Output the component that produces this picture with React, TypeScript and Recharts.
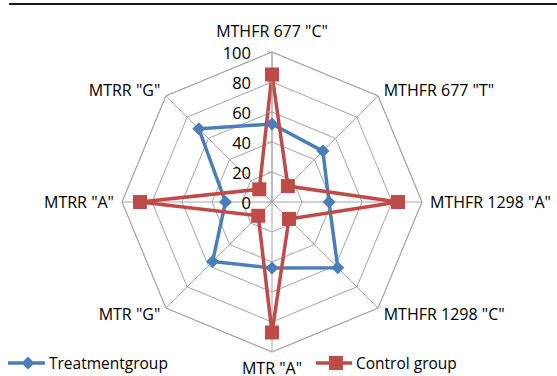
import React from "react";
import { RadarChart, Radar, PolarGrid, PolarAngleAxis, PolarRadiusAxis, Legend } from "recharts";

const genotypes = [
  'MTHFR 677 "C"',
  'MTHFR 677 "T"',
  'MTHFR 1298 "A"',
  'MTHFR 1298 "C"',
  'MTR "A"',
  'MTR "G"',
  'MTRR "A"',
  'MTRR "G"',
];
const treatmentGroup = [52, 48, 38, 62, 44, 56, 31, 69];
const controlGroup = [85, 15, 84, 16, 87, 13, 88, 12];
const radiusTicks = [0, 20, 40, 60, 80, 100];

const BLUE = "#4A7EBB";
const RED = "#BE4B48";
const GRID = "#A6A6A6";
const FONT = "'Open Sans', sans-serif";

const CX = 272;
const CY = 202;

const data = genotypes.map((g, i) => ({
  genotype: g,
  treatment: treatmentGroup[i],
  control: controlGroup[i],
}));

const Diamond = ({ cx, cy, color }: { cx: number; cy: number; color: string }) => (
  <path d={`M${cx},${cy - 6.5} L${cx + 6.5},${cy} L${cx},${cy + 6.5} L${cx - 6.5},${cy} Z`} fill={color} />
);

const Square = ({ cx, cy, color }: { cx: number; cy: number; color: string }) => (
  <rect x={cx - 7} y={cy - 7} width={14} height={14} fill={color} />
);

// category labels: start/end anchored at the sides, pushed further out at top and bottom
const AngleTick = (props: any) => {
  const { x, y, payload } = props;
  const dx = x - CX;
  const dy = y - CY;
  const len = Math.hypot(dx, dy) || 1;
  const ux = dx / len;
  const uy = dy / len;
  const vertical = Math.abs(ux) < 0.1;
  const anchor = vertical ? "middle" : ux > 0 ? "start" : "end";
  const ty = vertical ? y + uy * (uy < 0 ? 13 : 8) : y;
  return (
    <text x={x} y={ty} textAnchor={anchor} dominantBaseline="central" fontSize={16} fontFamily={FONT} fill="#000">
      {payload.value}
    </text>
  );
};

const RadiusTick = (props: any) => {
  const { x, y, payload } = props;
  return (
    <g>
      <line x1={x - 5} x2={x} y1={y} y2={y} stroke={GRID} />
      <text x={x - 21} y={y} textAnchor="end" dominantBaseline="central" fontSize={16.5} fontFamily={FONT} fill="#000">
        {payload.value}
      </text>
    </g>
  );
};

// legend overlay spans the whole chart so the rule along the top edge sits in it too
const LegendContent = () => (
  <svg width={557} height={376} style={{ display: "block" }}>
    <rect x={9} y={3} width={548} height={2} fill="#1c1c1c" />
    <line x1={8} x2={45} y1={363} y2={363} stroke={BLUE} strokeWidth={3.5} />
    <Diamond cx={28} cy={363} color={BLUE} />
    <line x1={316} x2={352} y1={363} y2={363} stroke={RED} strokeWidth={3.5} />
    <Square cx={336} cy={363} color={RED} />
    <text x={49} y={363} dominantBaseline="central" fontSize={15.5} fontFamily={FONT}>Treatmentgroup</text>
    <text x={356} y={363} dominantBaseline="central" fontSize={15.5} fontFamily={FONT}>Control group</text>
  </svg>
);

export default function App() {
  return (
    <div style={{ width: 557, height: 376, background: "#fff" }}>
      <style>{"body { margin: 0; }"}</style>
      <RadarChart width={557} height={376} data={data} cx={CX} cy={CY} outerRadius={150} margin={{ top: 0, right: 0, bottom: 0, left: 0 }}>
        <PolarGrid gridType="polygon" stroke={GRID} strokeWidth={1} />
        <PolarAngleAxis dataKey="genotype" tick={AngleTick} tickLine={false} axisLine={{ stroke: GRID }} />
        <PolarRadiusAxis
          angle={90}
          domain={[0, 100]}
          ticks={radiusTicks}
          tickCount={6}
          tick={RadiusTick}
          axisLine={{ stroke: GRID }}
        />
        <Radar
          name="Treatmentgroup"
          dataKey="treatment"
          stroke={BLUE}
          strokeWidth={3.5}
          fill="none"
          fillOpacity={0}
          dot={(p: any) => <Diamond key={`t${p.index}`} cx={p.cx} cy={p.cy} color={BLUE} />}
          isAnimationActive={false}
        />
        <Radar
          name="Control group"
          dataKey="control"
          stroke={RED}
          strokeWidth={3.5}
          fill="none"
          fillOpacity={0}
          dot={(p: any) => <Square key={`c${p.index}`} cx={p.cx} cy={p.cy} color={RED} />}
          isAnimationActive={false}
        />
        <Legend
          content={LegendContent}
          wrapperStyle={{ position: "absolute", left: 0, top: 0, width: 557, height: 376, pointerEvents: "none" }}
        />
      </RadarChart>
    </div>
  );
}
